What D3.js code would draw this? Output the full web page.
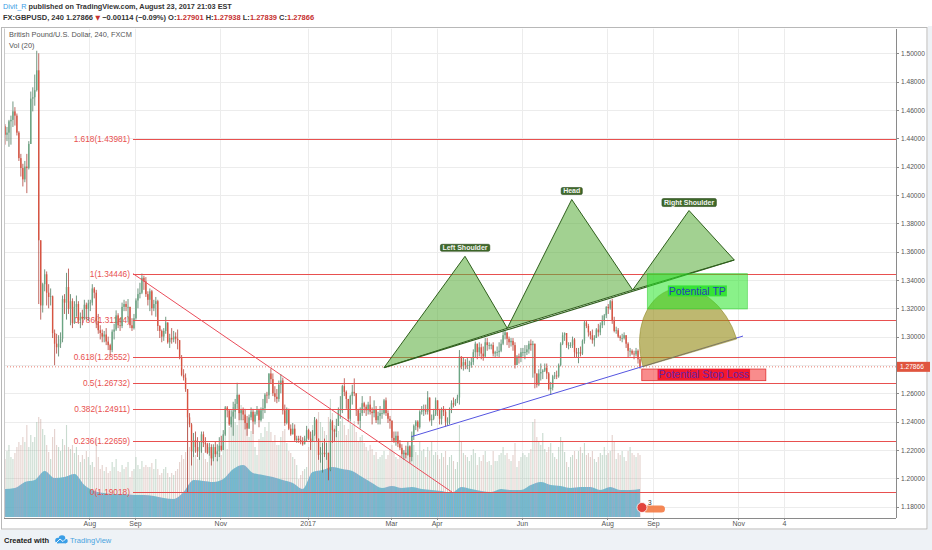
<!DOCTYPE html>
<html>
<head>
<meta charset="utf-8">
<script src="https://d3js.org/d3.v7.min.js"></script>
<style>
  body { margin: 0; background: #fff; }
  svg text { font-family: "Liberation Sans", Arial, sans-serif; }
  .axis path, .axis line { stroke: #8a8a8a; shape-rendering: crispEdges; }
  .axis text { fill: #555; }
</style>
</head>
<body>
<script>
// ---- data (daily, one row per trading week, first row starts Mon 2016-05-30) ----
var firstDay = "2016-05-30";

var closes = [
  1.4500,1.4485,1.4425,1.4440,1.4520, 1.4530,1.4590,1.4560,1.4440,1.4260,
  1.4190,1.4110,1.4200,1.4190,1.4360, 1.4680,1.4690,1.4740,1.4880,1.3680,
  1.3220,1.3370,1.3440,1.3310,1.3280, 1.3285,1.3025,1.2950,1.2925,1.2950,
  1.2985,1.3265,1.3240,1.3350,1.3195, 1.3250,1.3095,1.3210,1.3230,1.3115,
  1.3140,1.3125,1.3225,1.3195,1.3235, 1.3240,1.3340,1.3310,1.3110,1.3045,
  1.3025,1.3000,1.3015,1.2965,1.2940, 1.2905,1.3035,1.3050,1.3150,1.3080,
  1.3075,1.3210,1.3230,1.3210,1.3210, 1.3080,1.3060,1.3130,1.3255,1.3300,
  1.3310,1.3415,1.3390,1.3300,1.3260, 1.3320,1.3200,1.3230,1.3250,1.3075,
  1.3040,1.3000,1.3040,1.3100,1.2960, 1.2990,1.2980,1.3000,1.2985,1.2975,
  1.2850,1.2730,1.2710,1.2630,1.2430, 1.2380,1.2190,1.2270,1.2220,1.2190,
  1.2220,1.2310,1.2250,1.2240,1.2180, 1.2220,1.2140,1.2220,1.2170,1.2190,
  1.2230,1.2200,1.2310,1.2500,1.2480, 1.2380,1.2435,1.2470,1.2525,1.2590,
  1.2460,1.2480,1.2450,1.2390,1.2350, 1.2430,1.2470,1.2400,1.2450,1.2480,
  1.2410,1.2480,1.2495,1.2590,1.2585, 1.2740,1.2700,1.2600,1.2575,1.2560,
  1.2660,1.2690,1.2480,1.2390,1.2490, 1.2350,1.2310,1.2350,1.2270,1.2280,
  1.2270,1.2260,1.2240,1.2280,1.2340, 1.2280,1.2260,1.2310,1.2410,1.2280,
  1.2165,1.2180,1.2180,1.2170,1.2180, 1.2060,1.2400,1.2340,1.2330,1.2370,
  1.2480,1.2480,1.2650,1.2610,1.2560, 1.2420,1.2580,1.2610,1.2600,1.2480,
  1.2405,1.2460,1.2530,1.2505,1.2480, 1.2520,1.2470,1.2460,1.2485,1.2410,
  1.2440,1.2460,1.2460,1.2550,1.2460, 1.2420,1.2405,1.2285,1.2265,1.2300,
  1.2245,1.2215,1.2170,1.2180,1.2165, 1.2225,1.2150,1.2300,1.2370,1.2400,
  1.2360,1.2470,1.2480,1.2480,1.2470, 1.2570,1.2410,1.2420,1.2450,1.2550,
  1.2480,1.2420,1.2490,1.2470,1.2400, 1.2400,1.2490,1.2530,1.2520,1.2550,
  1.2570,1.2860,1.2790,1.2820,1.2800, 1.2800,1.2800,1.2820,1.2890,1.2950,
  1.2890,1.2925,1.2880,1.2860,1.2960, 1.2940,1.2940,1.2940,1.2880,1.2890,
  1.2890,1.2900,1.2950,1.3010,1.3030, 1.2985,1.2960,1.2970,1.2940,1.2800,
  1.2860,1.2850,1.2890,1.2890,1.2890, 1.2910,1.2950,1.2940,1.2950,1.2740,
  1.2660,1.2740,1.2750,1.2760,1.2780, 1.2740,1.2630,1.2640,1.2720,1.2725,
  1.2720,1.2800,1.2950,1.3010,1.3025, 1.2940,1.2940,1.2940,1.2980,1.2890,
  1.2880,1.2890,1.2880,1.2970,1.3100, 1.3075,1.3030,1.3010,1.2975,1.2990,
  1.3050,1.3030,1.3080,1.3110,1.3150, 1.3210,1.3200,1.3250,1.3110,1.3040,
  1.3045,1.3000,1.2990,1.2990,1.3010, 1.2950,1.2900,1.2900,1.2880,1.2875,
  1.2900,1.2840,1.2787
];

var highs = [
  1.4560,1.4580,1.4500,1.4480,1.4530, 1.4560,1.4660,1.4620,1.4575,1.4450,
  1.4290,1.4220,1.4240,1.4290,1.4380, 1.4730,1.4760,1.4850,1.5018,1.5000,
  1.3600,1.3380,1.3475,1.3460,1.3370, 1.3340,1.3290,1.3050,1.3020,1.3010,
  1.3030,1.3290,1.3300,1.3450,1.3480, 1.3300,1.3270,1.3250,1.3290,1.3250,
  1.3170,1.3190,1.3260,1.3240,1.3260, 1.3260,1.3370,1.3350,1.3330,1.3160,
  1.3080,1.3050,1.3040,1.3060,1.3000, 1.2950,1.3050,1.3090,1.3185,1.3165,
  1.3130,1.3240,1.3260,1.3250,1.3265, 1.3210,1.3130,1.3160,1.3270,1.3340,
  1.3380,1.3445,1.3430,1.3420,1.3320, 1.3340,1.3330,1.3260,1.3280,1.3260,
  1.3080,1.3050,1.3060,1.3140,1.3100, 1.3020,1.3060,1.3040,1.3030,1.3050,
  1.2950,1.2870,1.2770,1.2740,1.2630, 1.2460,1.2390,1.2320,1.2330,1.2290,
  1.2260,1.2330,1.2330,1.2290,1.2250, 1.2250,1.2240,1.2240,1.2260,1.2240,
  1.2290,1.2300,1.2340,1.2510,1.2510, 1.2450,1.2480,1.2540,1.2560,1.2674,
  1.2570,1.2490,1.2500,1.2490,1.2440, 1.2450,1.2500,1.2490,1.2470,1.2510,
  1.2490,1.2500,1.2560,1.2600,1.2610, 1.2740,1.2775,1.2740,1.2650,1.2630,
  1.2690,1.2735,1.2710,1.2520,1.2500, 1.2460,1.2380,1.2390,1.2380,1.2300,
  1.2300,1.2300,1.2290,1.2300,1.2370, 1.2350,1.2330,1.2340,1.2432,1.2420,
  1.2250,1.2220,1.2250,1.2280,1.2250, 1.2100,1.2417,1.2410,1.2350,1.2420,
  1.2500,1.2580,1.2660,1.2706,1.2620, 1.2560,1.2590,1.2660,1.2705,1.2560,
  1.2490,1.2500,1.2580,1.2540,1.2520, 1.2540,1.2580,1.2500,1.2550,1.2510,
  1.2470,1.2510,1.2490,1.2560,1.2570, 1.2480,1.2440,1.2410,1.2330,1.2330,
  1.2330,1.2270,1.2240,1.2200,1.2230, 1.2260,1.2230,1.2330,1.2380,1.2410,
  1.2410,1.2480,1.2510,1.2520,1.2520, 1.2615,1.2560,1.2450,1.2490,1.2570,
  1.2550,1.2490,1.2500,1.2510,1.2490, 1.2430,1.2500,1.2550,1.2570,1.2560,
  1.2590,1.2905,1.2850,1.2850,1.2840, 1.2850,1.2830,1.2850,1.2910,1.2965,
  1.2950,1.2960,1.2950,1.2930,1.2990, 1.2990,1.2960,1.2950,1.2960,1.2900,
  1.2930,1.2960,1.2980,1.3048,1.3040, 1.3020,1.3000,1.2990,1.2990,1.2960,
  1.2870,1.2880,1.2920,1.2920,1.2940, 1.2940,1.2970,1.2980,1.2970,1.2770,
  1.2740,1.2770,1.2810,1.2770,1.2810, 1.2810,1.2750,1.2680,1.2730,1.2750,
  1.2760,1.2810,1.2960,1.3030,1.3030, 1.3010,1.2960,1.2960,1.3000,1.2990,
  1.2920,1.2920,1.2930,1.2980,1.3115, 1.3110,1.3090,1.3040,1.3050,1.3010,
  1.3060,1.3090,1.3100,1.3150,1.3160, 1.3215,1.3230,1.3260,1.3267,1.3140,
  1.3070,1.3060,1.3010,1.3020,1.3030, 1.3010,1.2960,1.2920,1.2910,1.2900,
  1.2920,1.2910,1.2848
];

var lows = [
  1.4460,1.4450,1.4355,1.4380,1.4340, 1.4355,1.4480,1.4490,1.4420,1.4240,
  1.4130,1.4060,1.4090,1.4013,1.4180, 1.4450,1.4590,1.4630,1.4730,1.3230,
  1.3120,1.3170,1.3320,1.3220,1.3200, 1.3220,1.2990,1.2798,1.2880,1.2860,
  1.2920,1.2960,1.3160,1.3120,1.3160, 1.3080,1.3060,1.3090,1.3140,1.3090,
  1.3060,1.3080,1.3120,1.3120,1.3110, 1.3180,1.3220,1.3270,1.3060,1.3020,
  1.2980,1.2960,1.2960,1.2940,1.2905, 1.2865,1.2890,1.2980,1.3040,1.3060,
  1.3040,1.3060,1.3180,1.3180,1.3100, 1.3060,1.3040,1.3050,1.3120,1.3200,
  1.3270,1.3300,1.3330,1.3280,1.3220, 1.3180,1.3150,1.3180,1.3140,1.3040,
  1.2990,1.2960,1.2970,1.3020,1.2950, 1.2920,1.2950,1.2960,1.2950,1.2910,
  1.2840,1.2720,1.2690,1.2610,1.1902, 1.2360,1.2090,1.2150,1.2180,1.2150,
  1.2130,1.2180,1.2220,1.2180,1.2170, 1.2160,1.2090,1.2120,1.2150,1.2120,
  1.2150,1.2190,1.2200,1.2300,1.2430, 1.2370,1.2360,1.2300,1.2420,1.2490,
  1.2410,1.2410,1.2410,1.2345,1.2300, 1.2350,1.2410,1.2310,1.2380,1.2440,
  1.2360,1.2400,1.2420,1.2460,1.2530, 1.2560,1.2670,1.2580,1.2540,1.2530,
  1.2540,1.2600,1.2450,1.2370,1.2380, 1.2340,1.2300,1.2310,1.2260,1.2250,
  1.2250,1.2240,1.2230,1.2240,1.2260, 1.2270,1.2200,1.2260,1.2300,1.2260,
  1.2130,1.2110,1.2040,1.2150,1.2130, 1.1986,1.2050,1.2250,1.2260,1.2290,
  1.2370,1.2420,1.2460,1.2580,1.2490, 1.2400,1.2400,1.2520,1.2580,1.2440,
  1.2380,1.2350,1.2440,1.2460,1.2440, 1.2450,1.2450,1.2380,1.2430,1.2390,
  1.2380,1.2380,1.2420,1.2450,1.2440, 1.2390,1.2350,1.2260,1.2250,1.2230,
  1.2220,1.2200,1.2150,1.2130,1.2140, 1.2160,1.2109,1.2120,1.2270,1.2340,
  1.2330,1.2350,1.2450,1.2440,1.2450, 1.2450,1.2400,1.2370,1.2410,1.2440,
  1.2440,1.2380,1.2380,1.2440,1.2365, 1.2370,1.2380,1.2460,1.2500,1.2510,
  1.2530,1.2520,1.2770,1.2760,1.2770, 1.2770,1.2750,1.2780,1.2800,1.2850,
  1.2840,1.2860,1.2840,1.2830,1.2850, 1.2900,1.2910,1.2910,1.2860,1.2850,
  1.2860,1.2850,1.2890,1.2940,1.2980, 1.2940,1.2920,1.2930,1.2900,1.2775,
  1.2800,1.2810,1.2820,1.2860,1.2840, 1.2870,1.2880,1.2900,1.2710,1.2635,
  1.2640,1.2650,1.2690,1.2700,1.2750, 1.2700,1.2620,1.2589,1.2620,1.2700,
  1.2700,1.2710,1.2790,1.2940,1.2970, 1.2920,1.2910,1.2920,1.2920,1.2850,
  1.2850,1.2812,1.2860,1.2870,1.2950, 1.3060,1.3000,1.2980,1.2950,1.2930,
  1.2990,1.3000,1.3010,1.3060,1.3080, 1.3130,1.3160,1.3190,1.3090,1.3030,
  1.3020,1.2990,1.2970,1.2960,1.2980, 1.2920,1.2850,1.2860,1.2870,1.2840,
  1.2860,1.2810,1.2774
];

var volumes = [
  55,62,58,66,72, 60,58,64,70,75, 72,80,75,92,70, 82,75,80,95,100,
  98,88,82,72,65, 58,80,88,72,70, 66,78,72,92,70, 68,72,64,70,62,
  55,62,58,66,60, 52,55,50,78,60, 48,52,46,50,44, 46,55,50,58,46,
  45,52,48,50,55, 40,46,48,60,52, 48,56,50,52,50, 50,54,48,58,48,
  42,44,48,50,44, 40,44,42,46,48, 55,62,58,65,110, 70,68,60,62,58,
  60,70,64,58,55, 62,70,64,66,58, 64,62,72,85,68, 90,100,110,95,92,
  105,112,98,100,88, 80,86,82,70,62, 78,84,80,90,86, 95,85,76,82,72,
  72,80,86,88,74, 66,64,60,58,52, 38,42,46,48,50, 70,85,92,100,85,
  105,95,90,86,82, 100,118,104,92,84, 86,96,100,92,82, 88,94,92,96,85,
  76,80,82,74,70, 66,72,68,62,65, 58,60,62,66,58, 62,68,72,65,60,
  58,62,60,66,62, 68,72,78,72,65, 62,75,66,68,60, 70,66,75,62,65,
  62,58,64,60,66, 52,60,62,56,48, 55,92,75,64,62, 60,56,62,68,64,
  52,60,56,62,66, 55,56,52,66,56, 56,62,64,70,62, 64,58,56,62,74,
  50,56,60,64,62, 60,64,68,95,98, 80,75,72,84,68, 65,70,74,64,60,
  58,70,80,75,65, 55,50,60,62,66, 58,66,70,64,74, 62,64,60,66,58,
  55,60,64,62,70, 62,64,66,82,76, 58,64,62,66,60, 56,66,70,64,62,
  60,64,62
];

// Vol (20) average, one value per week
var volumeMA = [
  28,29,35,37,46,39,40,43,32,26, 24,23,23,22,22,21,19,18,25,37,
  36,35,38,48,52,44,42,40,37,34, 28,45,47,50,48,46,40,34,29,31,
  29,30,28,27,26,24,30,28,26,25, 28,27,27,32,35,32,31,29,30,30,
  27,30,27,27,28
];

var priceTicks = [1.18,1.20,1.22,1.24,1.26,1.28,1.30,1.32,1.34,1.36,1.38,1.40,1.42,1.44,1.46,1.48,1.50];
var timeTickDates = ["2016-08-01","2016-09-01","2016-11-01","2017-01-02","2017-03-01","2017-04-03",
                     "2017-06-01","2017-08-01","2017-09-01","2017-11-01","2017-12-04"];
var timeTickLabels = ["Aug","Sep","Nov","2017","Mar","Apr","Jun","Aug","Sep","Nov","4"];

var fibLabels = ["1.618","1","0.786","0.618","0.5","0.382","0.236","0"];
var fibPrices = [1.43981,1.34446,1.31144,1.28552,1.26732,1.24911,1.22659,1.19018];
var fibStart = 67;          // bar index where the retracement was anchored
var lastPrice = 1.27866;

// drawings, as [bar index, price]
var downTrend = [[67, 1.34446], [227.8, 1.19018]];
var upTrend = [[207.4, 1.2294], [374.4, 1.3004]];
var hsPoints = [[193.5,1.2781],[234.3,1.3567],[255.6,1.3059],[288.1,1.3968],[318.8,1.3329],[347.2,1.3890],[370.0,1.3541]];
var hsLabels = ["Left Shoulder","Head","Right Shoulder"];
var tpBox = [[326.2, 1.34446], [376.6, 1.3195]];
var slBox = [[323.4, 1.2771], [385.9, 1.2689]];
var arcPts = [[324, 1.2787], [371.2, 1.2983], [338.3, 1.3333]];

// ---- layout ----
var W = 932, H = 550;
var pane = { left: 4, right: 896, top: 28.5, bottom: 518 };
var upCol = "#6ba583", downCol = "#d75442", fibCol = "#e8504f";

function dayIndex(s) {
  var base = new Date(firstDay + "T00:00:00Z"), d = new Date(s + "T00:00:00Z");
  var days = Math.round((d - base) / 864e5);
  return Math.floor(days / 7) * 5 + Math.min(days % 7, 5);
}

var x = d3.scaleLinear().domain([2, 451.5]).range([pane.left, pane.right]);
var y = d3.scaleLinear().domain([1.18, 1.50]).range([506.6, 53.3]);
var vy = d3.scaleLinear().domain([0, 100]).range([517, 417]);

var bars = closes.map(function (c, i) {
  return { i: i, o: i ? closes[i - 1] : c, h: highs[i], l: lows[i], c: c, v: volumes[i] };
});

var svg = d3.select("body").append("svg").attr("width", W).attr("height", H);

svg.append("rect").attr("width", W).attr("height", H).attr("fill", "#fff");
svg.append("rect").attr("x", 0).attr("y", 530).attr("width", W).attr("height", 20).attr("fill", "#eef2f6");
svg.append("rect").attr("x", 928).attr("y", 26).attr("width", 4).attr("height", 524).attr("fill", "#eef2f6");

svg.append("defs").append("clipPath").attr("id", "clip")
  .append("rect").attr("x", pane.left).attr("y", pane.top)
  .attr("width", pane.right - pane.left).attr("height", pane.bottom - pane.top);

// grid
var grid = svg.append("g").attr("clip-path", "url(#clip)");
grid.selectAll(".hg").data(priceTicks).enter().append("line")
  .attr("x1", pane.left).attr("x2", pane.right)
  .attr("y1", function (d) { return Math.round(y(d)) + 0.5; })
  .attr("y2", function (d) { return Math.round(y(d)) + 0.5; })
  .attr("stroke", "#ececec");
grid.selectAll(".vg").data(timeTickDates).enter().append("line")
  .attr("x1", function (d) { return Math.round(x(dayIndex(d))) + 0.5; })
  .attr("x2", function (d) { return Math.round(x(dayIndex(d))) + 0.5; })
  .attr("y1", pane.top).attr("y2", pane.bottom)
  .attr("stroke", "#ececec");

// pane titles
svg.append("text").attr("x", 9).attr("y", 37).attr("font-size", 7.4).attr("fill", "#555")
  .text("British Pound/U.S. Dollar, 240, FXCM");
svg.append("text").attr("x", 9).attr("y", 47.5).attr("font-size", 7.4).attr("fill", "#555")
  .text("Vol (20)");

var plot = svg.append("g").attr("clip-path", "url(#clip)");

// volume
var weekMA = volumeMA.map(function (v, k) {
  return { i: Math.min(5 * k + 2.5, closes.length - 0.5), v: v };
});
weekMA.unshift({ i: 0, v: volumeMA[0] });
plot.append("path").datum(weekMA)
  .attr("d", d3.area().x(function (d) { return x(d.i); }).y0(vy(0))
    .y1(function (d) { return vy(d.v); }).curve(d3.curveMonotoneX))
  .attr("fill", "rgba(72,168,214,0.8)");
plot.selectAll(".vol").data(bars).enter().append("rect")
  .attr("x", function (d) { return x(d.i + 0.5) - 0.55; })
  .attr("width", 1.1)
  .attr("y", function (d) { return vy(d.v); })
  .attr("height", function (d) { return vy(0) - vy(d.v); })
  .attr("fill", function (d) { return d.c >= d.o ? "#93b8a0" : "#c9a49c"; })
  .attr("opacity", 0.5);

// fib labels (under the candles)
fibPrices.forEach(function (p, k) {
  plot.append("text").attr("x", x(fibStart) - 3).attr("y", y(p) + 3)
    .attr("text-anchor", "end").attr("font-size", 8.3).attr("fill", fibCol)
    .text(fibLabels[k] + "(" + p.toFixed(5) + ")");
});

// candles
var candle = plot.selectAll(".c").data(bars).enter().append("g");
candle.append("line")
  .attr("x1", function (d) { return x(d.i + 0.5); })
  .attr("x2", function (d) { return x(d.i + 0.5); })
  .attr("y1", function (d) { return y(Math.max(d.h, d.o, d.c)); })
  .attr("y2", function (d) { return y(Math.min(d.l, d.o, d.c)); })
  .attr("stroke", function (d) { return d.c >= d.o ? "#4f7d62" : "#b0433a"; })
  .attr("stroke-width", 0.8);
candle.append("rect")
  .attr("x", function (d) { return x(d.i + 0.5) - 0.7; })
  .attr("width", 1.4)
  .attr("y", function (d) { return y(Math.max(d.o, d.c)); })
  .attr("height", function (d) { return Math.max(0.8, Math.abs(y(d.o) - y(d.c))); })
  .attr("fill", function (d) { return d.c >= d.o ? upCol : downCol; });

// fib lines
plot.selectAll(".fib").data(fibPrices).enter().append("line")
  .attr("x1", x(fibStart)).attr("x2", pane.right)
  .attr("y1", function (d) { return Math.round(y(d)) + 0.5; })
  .attr("y2", function (d) { return Math.round(y(d)) + 0.5; })
  .attr("stroke", fibCol).attr("stroke-width", 1);

// current price line
plot.append("line").attr("x1", pane.left).attr("x2", pane.right)
  .attr("y1", y(lastPrice)).attr("y2", y(lastPrice))
  .attr("stroke", "#e05a4a").attr("stroke-width", 0.8).attr("stroke-dasharray", "1,2");

// trend lines
var line = d3.line().x(function (d) { return x(d[0]); }).y(function (d) { return y(d[1]); });
plot.append("path").attr("d", line(downTrend)).attr("stroke", "#ea4c5a").attr("stroke-width", 1).attr("fill", "none");
plot.append("path").attr("d", line(upTrend)).attr("stroke", "#5555e0").attr("stroke-width", 1).attr("fill", "none");

// arc
(function () {
  var s = [x(arcPts[0][0]), y(arcPts[0][1])], e = [x(arcPts[1][0]), y(arcPts[1][1])], t = [x(arcPts[2][0]), y(arcPts[2][1])];
  var dx = e[0] - s[0], dy = e[1] - s[1], len = Math.hypot(dx, dy);
  var rx = len / 2, ry = Math.abs(dx * (t[1] - s[1]) - dy * (t[0] - s[0])) / len;
  var ang = Math.atan2(dy, dx) * 180 / Math.PI;
  plot.append("path")
    .attr("d", "M" + s + "A" + rx + "," + ry + " " + ang + " 0 1 " + e + "Z")
    .attr("fill", "rgba(150,140,25,0.62)").attr("stroke", "rgba(130,120,20,0.7)").attr("stroke-width", 0.6);
})();

// head & shoulders
var tri = [[0, 1, 2], [2, 3, 4], [4, 5, 6]];
tri.forEach(function (t) {
  plot.append("path")
    .attr("d", line(t.map(function (k) { return hsPoints[k]; })) + "Z")
    .attr("fill", "rgba(95,175,65,0.58)").attr("stroke", "#2f5f1c").attr("stroke-width", 1);
});
plot.append("path").attr("d", line([hsPoints[0], hsPoints[6]]))
  .attr("stroke", "#2f5f1c").attr("stroke-width", 1.2).attr("fill", "none");
[1, 3, 5].forEach(function (k, n) {
  var g = plot.append("g");
  var t = g.append("text").attr("x", x(hsPoints[k][0])).attr("y", y(hsPoints[k][1]) - 6)
    .attr("text-anchor", "middle").attr("font-size", 7).attr("font-weight", "bold")
    .attr("fill", "#f2f2f2").text(hsLabels[n]);
  var b = t.node().getBBox();
  g.insert("rect", "text").attr("x", b.x - 2).attr("y", b.y).attr("width", b.width + 4)
    .attr("height", b.height).attr("rx", 1.5).attr("fill", "#3f6a2a").attr("stroke", "#2b4a1c").attr("stroke-width", 0.6);
});

// potential TP / SL
function box(pts, fill, stroke, label, bg, color) {
  var x0 = x(pts[0][0]), x1 = x(pts[1][0]), y0 = y(pts[0][1]), y1 = y(pts[1][1]);
  plot.append("rect").attr("x", x0).attr("y", y0).attr("width", x1 - x0).attr("height", y1 - y0)
    .attr("fill", fill).attr("stroke", stroke).attr("stroke-width", 0.8);
  var g = plot.append("g");
  var t = g.append("text").attr("x", (x0 + x1) / 2).attr("y", (y0 + y1) / 2 + 3.6)
    .attr("text-anchor", "middle").attr("font-size", 10.5).attr("fill", color).text(label);
  var b = t.node().getBBox();
  g.insert("rect", "text").attr("x", b.x - 1).attr("y", b.y + 0.5).attr("width", b.width + 2)
    .attr("height", b.height - 1).attr("fill", bg);
}
box(tpBox, "rgba(40,230,40,0.55)", "rgba(40,200,40,0.6)", "Potential TP", "rgba(40,225,40,0.85)", "#2440b8");
box(slBox, "rgba(245,70,70,0.62)", "#e03030", "Potential Stop Loss", "#f2192c", "#6a22a8");

// idea marker near the last bar
var mk = plot.append("g");
mk.append("rect").attr("x", x(324)).attr("y", 505.5).attr("width", 22).attr("height", 7).attr("rx", 3.5)
  .attr("fill", "#f47a42").attr("opacity", 0.9);
mk.append("circle").attr("cx", x(323.5)).attr("cy", 507.5).attr("r", 5).attr("fill", "#e2443c").attr("stroke", "#fff").attr("stroke-width", 0.8);
mk.append("text").attr("x", x(323.5) + 6).attr("y", 504.5).attr("font-size", 6.5).attr("fill", "#333").text("3");

// pane border and frame
svg.append("rect").attr("x", 1.5).attr("y", 27.5).attr("width", 925.5).attr("height", 501.5)
  .attr("fill", "none").attr("stroke", "#b8b8b8");
svg.append("line").attr("x1", pane.left + 0.5).attr("x2", pane.left + 0.5).attr("y1", pane.top).attr("y2", pane.bottom)
  .attr("stroke", "#c8c8c8");

// axes
var yAxis = svg.append("g").attr("class", "axis").attr("transform", "translate(" + pane.right + ",0)")
  .call(d3.axisRight(y).tickValues(priceTicks).tickFormat(d3.format(".5f")).tickSize(3).tickPadding(2));
yAxis.select(".domain").attr("d", "M0.5," + pane.top + "V" + pane.bottom);
yAxis.selectAll("text").attr("font-size", 6.6);

var xAxis = svg.append("g").attr("class", "axis").attr("transform", "translate(0," + pane.bottom + ")")
  .call(d3.axisBottom(x).tickValues(timeTickDates.map(dayIndex))
    .tickFormat(function (d, i) { return timeTickLabels[i]; }).tickSize(2).tickPadding(1.5));
xAxis.select(".domain").attr("d", "M" + pane.left + ",0.5H" + pane.right);
xAxis.selectAll("text").attr("font-size", 7);

// last price label
svg.append("rect").attr("x", pane.right + 1).attr("y", y(lastPrice) - 5).attr("width", 33).attr("height", 10)
  .attr("fill", "#e0553f");
svg.append("text").attr("x", pane.right + 4).attr("y", y(lastPrice) + 2.4).attr("font-size", 6.6)
  .attr("fill", "#fff").text(lastPrice.toFixed(5));

// header
var h1 = svg.append("text").attr("x", 3).attr("y", 9).attr("font-size", 7.3).attr("font-weight", "bold").attr("fill", "#333");
h1.append("tspan").attr("fill", "#3c9ee5").attr("font-weight", "normal").text("Divit_R");
h1.append("tspan").text(" published on TradingView.com, August 23, 2017 21:03 EST");

var red = "#c62f2f";
var h2 = svg.append("text").attr("x", 3).attr("y", 19.5).attr("font-size", 7.5).attr("font-weight", "bold").attr("fill", "#333");
h2.append("tspan").text("FX:GBPUSD, 240  1.27866 ");
h2.append("tspan").attr("fill", red).attr("font-family", "DejaVu Sans").attr("font-size", 6.5).text("\u25BC");
h2.append("tspan").text(" \u22120.00114 (\u22120.09%) O:");
h2.append("tspan").attr("fill", red).text("1.27901");
h2.append("tspan").text(" H:");
h2.append("tspan").attr("fill", red).text("1.27938");
h2.append("tspan").text(" L:");
h2.append("tspan").attr("fill", red).text("1.27839");
h2.append("tspan").text(" C:");
h2.append("tspan").attr("fill", red).text("1.27866");

// footer
svg.append("text").attr("x", 4).attr("y", 543).attr("font-size", 7.5).attr("font-weight", "bold")
  .attr("fill", "#222").text("Created with");
var logo = svg.append("g").attr("fill", "#3a9ee6");
logo.append("circle").attr("cx", 58).attr("cy", 540.5).attr("r", 2.8);
logo.append("circle").attr("cx", 62).attr("cy", 538.5).attr("r", 3.3);
logo.append("circle").attr("cx", 65.5).attr("cy", 541).attr("r", 2.3);
logo.append("rect").attr("x", 57).attr("y", 540).attr("width", 9).attr("height", 3.3);
logo.append("path").attr("d", "M56,543 L60,539 L63,541.5 L67,537.5").attr("stroke", "#fff").attr("stroke-width", 0.9).attr("fill", "none");
svg.append("text").attr("x", 70).attr("y", 543).attr("font-size", 7.5).attr("fill", "#4aa3e0").text("TradingView");
</script>
</body>
</html>
